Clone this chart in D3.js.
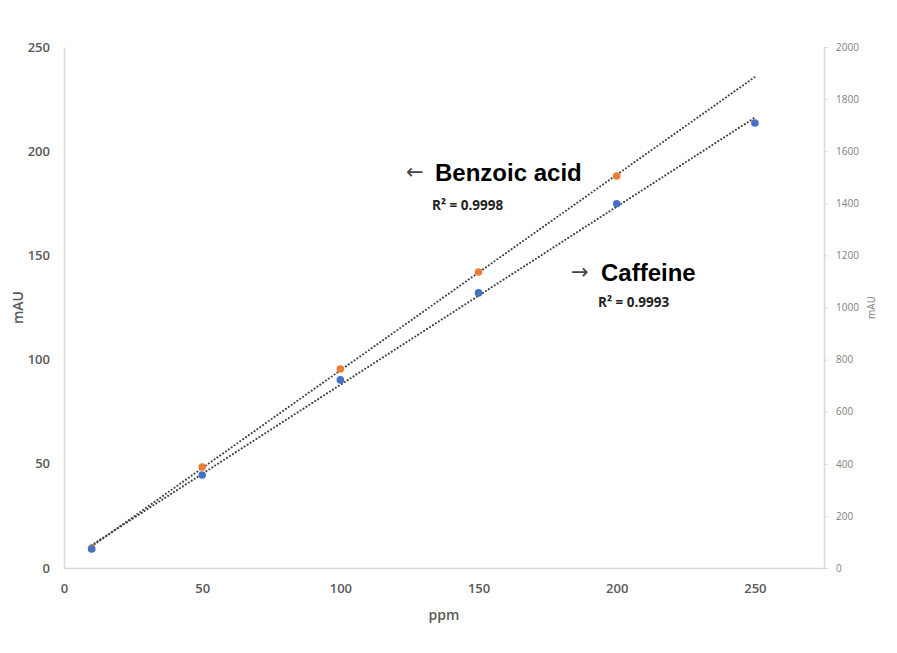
<!DOCTYPE html>
<html>
<head>
<meta charset="utf-8">
<script src="https://cdn.jsdelivr.net/npm/d3@7"></script>
<style>
  html, body { margin: 0; padding: 0; background: #fff; }
  #chart { width: 897px; height: 653px; }
  .tick-l text, .tick-b text { font-family: "Open Sans", sans-serif; font-weight: 600; font-size: 13px; fill: #595959; }
  .tick-r text { font-family: "Open Sans", sans-serif; font-size: 10px; fill: #808080; }
</style>
</head>
<body>
<div id="chart"></div>
<script>
// Benzoic acid on the left axis, caffeine on the right axis
const ppmBenzoic  = [10, 50, 100, 150, 200];
const mauBenzoic  = [9.5, 48.5, 95.5, 142.0, 188.1];
const ppmCaffeine = [10, 50, 100, 150, 200, 250];
const mauCaffeine = [73, 357, 722, 1056, 1398, 1708];

const trendSpan   = [10, 250];
const xTicks      = [0, 50, 100, 150, 200, 250];
const yLeftTicks  = [0, 50, 100, 150, 200, 250];
const yRightTicks = [0, 200, 400, 600, 800, 1000, 1200, 1400, 1600, 1800, 2000];

const W = 897, H = 653;
const M = { top: 47, right: 73, bottom: 85, left: 64 };
const iw = W - M.left - M.right, ih = H - M.top - M.bottom;

const svg = d3.select('#chart').append('svg').attr('width', W).attr('height', H);
const g = svg.append('g').attr('transform', `translate(${M.left},${M.top})`);

const x  = d3.scaleLinear().domain([0, 275]).range([0, iw]);
const yL = d3.scaleLinear().domain([0, 250]).range([ih, 0]);
const yR = d3.scaleLinear().domain([0, 2000]).range([ih, 0]);

// Axes
g.append('g').attr('class', 'tick-l')
  .call(d3.axisLeft(yL).tickValues(yLeftTicks).tickSize(0).tickPadding(14))
  .call(ax => ax.select('.domain').attr('stroke', '#d9d9d9').attr('stroke-width', 1.5));

g.append('g').attr('class', 'tick-b').attr('transform', `translate(0,${ih})`)
  .call(d3.axisBottom(x).tickValues(xTicks).tickSize(0).tickPadding(16))
  .call(ax => ax.select('.domain').attr('stroke', '#d9d9d9').attr('stroke-width', 1.5));

g.append('g').attr('class', 'tick-r').attr('transform', `translate(${iw},0)`)
  .call(d3.axisRight(yR).tickValues(yRightTicks).tickFormat(d3.format('d'))
    .tickSize(4).tickSizeOuter(0).tickPadding(8))
  .call(ax => ax.select('.domain').attr('stroke', '#d9d9d9').attr('stroke-width', 1.5))
  .call(ax => ax.selectAll('line').attr('stroke', '#d9d9d9'))
  .call(ax => ax.selectAll('text').attr('fill', '#808080'));

// Axis titles
g.append('text')
  .attr('transform', `translate(${17 - M.left},${ih / 2}) rotate(-90)`)
  .attr('text-anchor', 'middle').attr('dominant-baseline', 'central')
  .style('font-family', '"Open Sans", sans-serif').style('font-weight', 600)
  .style('font-size', '14px').style('fill', '#595959')
  .text('mAU');

g.append('text')
  .attr('transform', `translate(${iw + 47},${ih / 2}) rotate(-90)`)
  .attr('text-anchor', 'middle').attr('dominant-baseline', 'central')
  .style('font-family', '"Open Sans", sans-serif')
  .style('font-size', '10px').style('fill', '#808080')
  .text('mAU');

g.append('text')
  .attr('x', iw / 2).attr('y', ih + 52)
  .attr('text-anchor', 'middle')
  .style('font-family', '"Open Sans", sans-serif').style('font-weight', 600)
  .style('font-size', '14px').style('fill', '#595959')
  .text('ppm');

// Linear trendlines
function fit(xs, ys) {
  const mx = d3.mean(xs), my = d3.mean(ys);
  const sxy = d3.sum(xs, (v, i) => (v - mx) * (ys[i] - my));
  const sxx = d3.sum(xs, v => (v - mx) ** 2);
  const b = sxy / sxx;
  return v => my + b * (v - mx);
}

const fB = fit(ppmBenzoic, mauBenzoic);
const fC = fit(ppmCaffeine, mauCaffeine);

const trendStyle = sel => sel
  .attr('fill', 'none').attr('stroke', '#404040').attr('stroke-width', 2)
  .attr('stroke-linecap', 'round').attr('stroke-dasharray', '0.1 3.4');

g.append('line').call(trendStyle)
  .attr('x1', x(trendSpan[0])).attr('y1', yL(fB(trendSpan[0])))
  .attr('x2', x(trendSpan[1])).attr('y2', yL(fB(trendSpan[1])));

g.append('line').call(trendStyle)
  .attr('x1', x(trendSpan[0])).attr('y1', yR(fC(trendSpan[0])))
  .attr('x2', x(trendSpan[1])).attr('y2', yR(fC(trendSpan[1])));

// Points
g.selectAll('.pt-b')
  .data(ppmBenzoic.map((v, i) => [v, mauBenzoic[i]]))
  .join('circle').attr('class', 'pt-b')
    .attr('cx', d => x(d[0])).attr('cy', d => yL(d[1])).attr('r', 3.8)
    .attr('fill', '#ED7D31');

g.selectAll('.pt-c')
  .data(ppmCaffeine.map((v, i) => [v, mauCaffeine[i]]))
  .join('circle').attr('class', 'pt-c')
    .attr('cx', d => x(d[0])).attr('cy', d => yR(d[1])).attr('r', 3.8)
    .attr('fill', '#4472C4');

// Annotations
function label(ax, tx, ay, arrow, name, r2x, r2y, r2) {
  svg.append('text').attr('x', ax).attr('y', ay - 2)
    .style('font-family', '"DejaVu Sans", sans-serif')
    .style('font-size', '21px').style('fill', '#444')
    .text(arrow);
  svg.append('text').attr('x', tx).attr('y', ay)
    .style('font-family', '"Liberation Sans", Arial, sans-serif')
    .style('font-size', '24px').style('font-weight', 'bold').style('fill', '#000')
    .text(name);
  svg.append('text').attr('x', r2x).attr('y', r2y)
    .style('font-family', '"Open Sans", sans-serif').style('font-weight', 'bold')
    .style('font-size', '13.5px').style('fill', '#222')
    .text(r2);
}

label(406, 435, 181, '←', 'Benzoic acid', 432, 210, 'R² = 0.9998');
label(571, 601, 281, '→', 'Caffeine', 598, 307, 'R² = 0.9993');
</script>
</body>
</html>
